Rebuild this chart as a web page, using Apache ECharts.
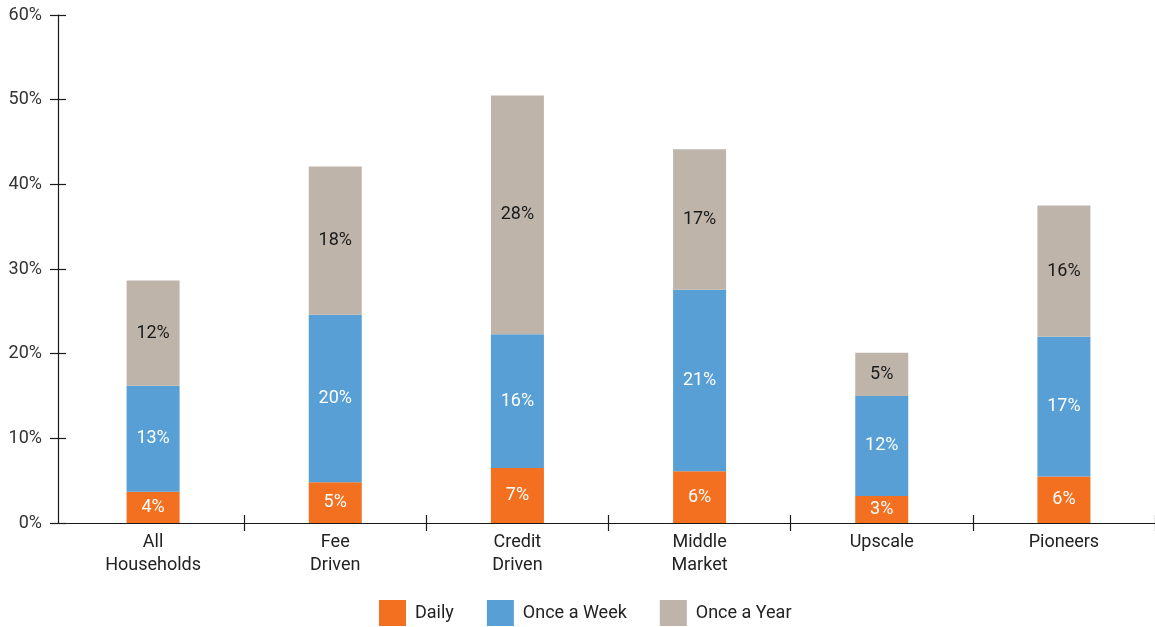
<!DOCTYPE html>
<html>
<head>
<meta charset="utf-8">
<script src="https://cdn.jsdelivr.net/npm/echarts@6/dist/echarts.min.js"></script>
<style>
  html, body { margin: 0; padding: 0; background: #fff; }
  #chart { width: 1155px; height: 627px; }
</style>
</head>
<body>
<div id="chart"></div>
<script>
// Share of households by frequency, per segment (percent)
const categories = ['All\nHouseholds', 'Fee\nDriven', 'Credit\nDriven', 'Middle\nMarket', 'Upscale', 'Pioneers'];
const daily      = [3.7, 4.8, 6.5, 6.1, 3.2, 5.5];
const onceAWeek  = [12.5, 19.8, 15.8, 21.45, 11.8, 16.5];
const onceAYear  = [12.45, 17.5, 28.2, 16.6, 5.1, 15.5];
const seriesNames = ['Daily', 'Once a Week', 'Once a Year'];
const yTicks = { min: 0, max: 60, interval: 10 };

const FONT = 'Roboto, "Noto Sans", sans-serif';
const colors = ['#F37021', '#579FD4', '#BEB4AA'];
const labelColors = ['#ffffff', '#ffffff', '#1a1a1a'];

function makeSeries(name, data, i) {
  return {
    name: name,
    type: 'bar',
    stack: 'total',
    barWidth: 53,
    data: data,
    itemStyle: { color: colors[i] },
    label: {
      show: true,
      position: 'inside',
      color: labelColors[i],
      fontFamily: FONT,
      fontSize: 18,
      formatter: p => Math.round(p.value) + '%'
    },
    emphasis: { disabled: true }
  };
}

const chart = echarts.init(document.getElementById('chart'), null, { renderer: 'canvas' });
chart.setOption({
  animation: false,
  backgroundColor: '#ffffff',
  textStyle: { fontFamily: FONT },
  grid: { left: 62, right: -4, top: 15, bottom: 104, containLabel: false },
  legend: {
    data: seriesNames,
    left: 379,
    top: 600,
    padding: 0,
    icon: 'rect',
    itemWidth: 27,
    itemHeight: 26,
    itemGap: 33,
    textStyle: { fontFamily: FONT, fontSize: 18, color: '#222', padding: [0, 0, 0, 4] },
    selectedMode: false
  },
  xAxis: [
    {
      type: 'category',
      data: categories,
      axisLine: { show: true, lineStyle: { color: '#1a1a1a', width: 1.2 } },
      axisTick: { show: true, length: 8, interval: i => i !== 0, lineStyle: { color: '#1a1a1a', width: 1.2 } },
      axisLabel: { margin: 8, fontFamily: FONT, fontSize: 18, lineHeight: 23, color: '#222', interval: 0 }
    },
    {
      type: 'category',
      data: categories,
      position: 'bottom',
      axisLine: { show: false },
      axisTick: { show: true, inside: true, length: 8, interval: i => i !== 0, lineStyle: { color: '#1a1a1a', width: 1.2 } },
      axisLabel: { show: false }
    }
  ],
  yAxis: [
    {
      type: 'value',
      min: yTicks.min, max: yTicks.max, interval: yTicks.interval,
      offset: 4,
      axisLine: { show: true, lineStyle: { color: '#1a1a1a', width: 1.2 } },
      axisTick: { show: true, length: 8, lineStyle: { color: '#1a1a1a', width: 1.2 } },
      splitLine: { show: false },
      axisLabel: { margin: 16, fontFamily: FONT, fontSize: 18, color: '#333', formatter: v => v + '%' }
    },
    {
      type: 'value',
      min: yTicks.min, max: yTicks.max, interval: yTicks.interval,
      offset: 4,
      position: 'left',
      axisLine: { show: false },
      axisTick: { show: true, inside: true, length: 8, lineStyle: { color: '#1a1a1a', width: 1.2 } },
      splitLine: { show: false },
      axisLabel: { show: false }
    }
  ],
  series: [
    makeSeries(seriesNames[0], daily, 0),
    makeSeries(seriesNames[1], onceAWeek, 1),
    makeSeries(seriesNames[2], onceAYear, 2)
  ]
});
</script>
</body>
</html>
